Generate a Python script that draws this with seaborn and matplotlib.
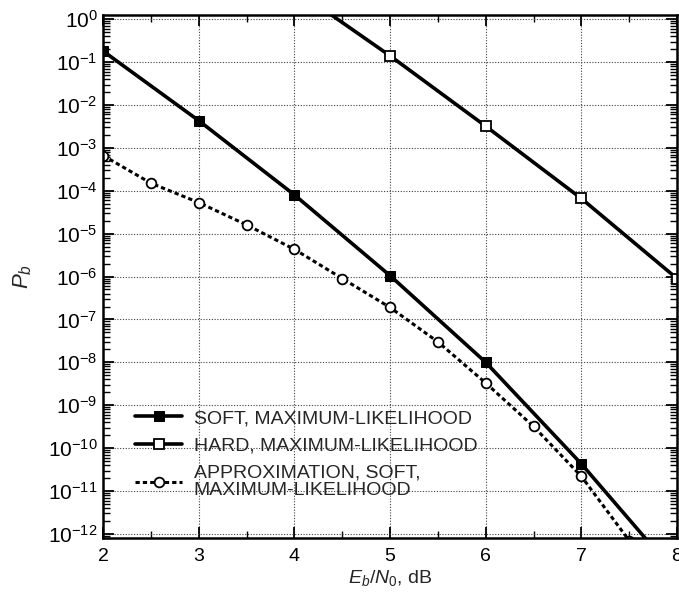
import numpy as np
import pandas as pd
import matplotlib
matplotlib.use('Agg')
import matplotlib.pyplot as plt
import matplotlib.ticker as mticker
import seaborn as sns

# Eb/N0 (dB) and bit error probabilities
soft_x = [2, 3, 4, 5, 6, 7, 8]
soft_pb = [1.8e-1, 4.3e-3, 8.0e-5, 1.05e-6, 1.0e-8, 4.3e-11, 1.1e-13]

hard_x = [4, 5, 6, 7, 8]
hard_pb = [5.0, 1.4e-1, 3.2e-3, 6.6e-5, 9.0e-7]

approx_x = [2, 2.5, 3, 3.5, 4, 4.5, 5, 5.5, 6, 6.5, 7, 7.5]
approx_pb = [6.6e-4, 1.5e-4, 5.3e-5, 1.6e-5, 4.3e-6, 9.0e-7, 1.9e-7,
             3.0e-8, 3.3e-9, 3.2e-10, 2.2e-11, 7.0e-13]

labels = ['SOFT, MAXIMUM-LIKELIHOOD', 'HARD, MAXIMUM-LIKELIHOOD',
          'APPROXIMATION, SOFT,\nMAXIMUM-LIKELIHOOD']

sns.set_theme(style='ticks')
plt.rcParams['font.family'] = ['Liberation Sans', 'DejaVu Sans']
plt.rcParams['mathtext.fontset'] = 'custom'
plt.rcParams['mathtext.rm'] = 'Liberation Sans'
plt.rcParams['mathtext.it'] = 'Liberation Sans:italic'

df_soft = pd.DataFrame({'x': soft_x, 'pb': soft_pb})
df_hard = pd.DataFrame({'x': hard_x, 'pb': hard_pb})
df_approx = pd.DataFrame({'x': approx_x, 'pb': approx_pb})

fig = plt.figure(figsize=(6.79, 5.96), dpi=100)
ax = fig.add_axes([0.152, 0.097, 0.845, 0.878])

sns.lineplot(data=df_soft, x='x', y='pb', ax=ax, color='black', lw=2.6,
             marker='s', markersize=7, markerfacecolor='black',
             markeredgecolor='black', label=labels[0])
sns.lineplot(data=df_hard, x='x', y='pb', ax=ax, color='black', lw=2.6,
             marker='s', markersize=7, markerfacecolor='white',
             markeredgecolor='black', markeredgewidth=1.3, label=labels[1])
sns.lineplot(data=df_approx, x='x', y='pb', ax=ax, color='black', lw=2.2,
             linestyle=(0, (1.4, 1.0)), marker='o', markersize=7,
             markerfacecolor='white', markeredgecolor='black',
             markeredgewidth=1.3, label=labels[2])

ax.set_yscale('log')
ax.set_xlim(2, 8)
ax.set_ylim(10 ** -12.1, 10 ** 0.1)
ax.set_xticks([2, 3, 4, 5, 6, 7, 8])
ax.xaxis.set_minor_locator(mticker.MultipleLocator(0.5))
ax.yaxis.set_major_locator(mticker.LogLocator(base=10, numticks=20))
ax.yaxis.set_minor_locator(mticker.LogLocator(base=10, subs=np.arange(2, 10), numticks=20))
ax.yaxis.set_minor_formatter(mticker.NullFormatter())
ax.yaxis.set_major_formatter(mticker.FuncFormatter(lambda v, p: r'$10^{%d}$' % round(np.log10(v))))

ax.tick_params(which='both', direction='in', top=True, right=True, colors='black')
ax.tick_params(axis='y', labelsize=15, pad=4)
ax.tick_params(axis='x', labelsize=14, pad=7)
ax.tick_params(which='major', length=8, width=1.3)
ax.tick_params(which='minor', length=5, width=1.0)
for s in ax.spines.values():
    s.set_linewidth(1.8)
    s.set_color('black')

ax.grid(True, which='major', color='0.25', linestyle=(0, (1, 1.5)), linewidth=0.8)

ax.set_xlabel(r'$E_b/N_0$, dB', fontsize=14, labelpad=2)
ax.set_ylabel(r'$P_b$', fontsize=16, labelpad=10)

leg = ax.legend(loc='lower left', bbox_to_anchor=(0.056, 0.074), frameon=False, fontsize=14,
                handlelength=2.4, handletextpad=0.6, labelspacing=0.5,
                borderaxespad=0, borderpad=0)
for t in leg.get_texts():
    t.set_linespacing(1.1)

fig.savefig('out.png', dpi=100)
